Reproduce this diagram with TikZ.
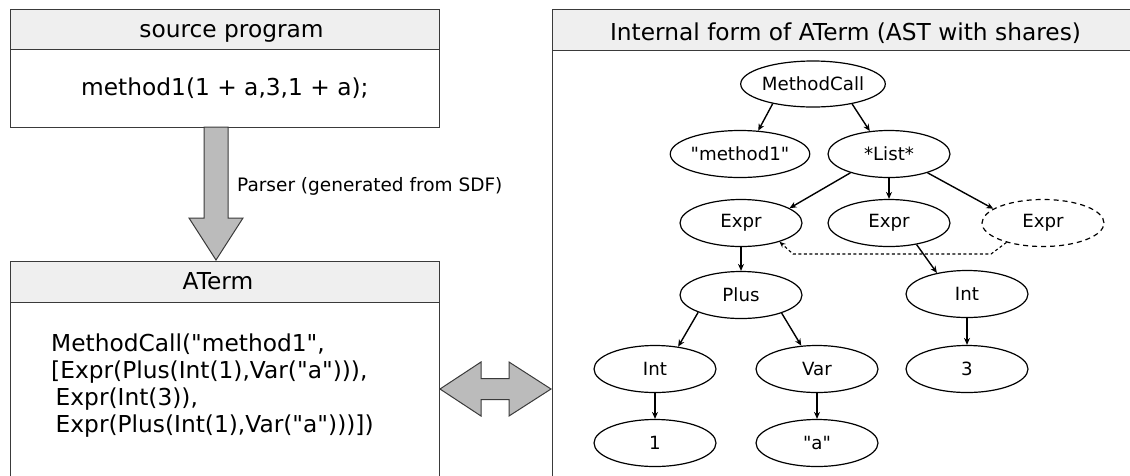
\documentclass[tikz,border=0pt]{standalone}
\usepackage{fontspec}
\setmainfont{DejaVu Sans}[Ligatures=TeXOff]
\usetikzlibrary{shapes.geometric,arrows.meta,calc}

\definecolor{headgray}{HTML}{EFEFEF}
\definecolor{framegray}{HTML}{3A3A3A}
\definecolor{blockgray}{HTML}{BBBBBB}

\tikzset{
  frame/.style={draw=framegray, line width=1pt},
  header/.style={fill=headgray},
  title/.style={font=\fontsize{23.3}{27}\selectfont, inner sep=0pt, anchor=base},
  body/.style={font=\fontsize{23.3}{27}\selectfont, inner sep=0pt},
  blockarrow/.style={draw=framegray, fill=blockgray, line width=1pt, line join=miter},
  term/.style={ellipse, draw, line width=1.2pt, minimum width=122pt, minimum height=47pt,
               inner sep=0pt, font=\fontsize{18.2}{21}\selectfont},
  shared/.style={term, dashed, dash pattern=on 5pt off 4pt},
  edge/.style={line width=1.4pt, -{Stealth[length=7pt,width=6pt]}},
  shareedge/.style={line width=1.1pt, dash pattern=on 3pt off 2.5pt, -{Stealth[length=6pt,width=5pt]}}
}

\begin{document}
\begin{tikzpicture}[x=1pt,y=-1pt]
\useasboundingbox (0,0) rectangle (1130,475);

% ---- source program box ----
\fill[header] (10,9) rectangle (439,49);
\draw[frame] (10,9) rectangle (439,127);
\draw[frame] (10,49) -- (439,49);
\node[title] (srctitle) at (231.5,37) {source program};
\node[body, anchor=base west] (srctext) at (81,95) {method1(1 + a,3,1 + a);};

% ---- ATerm box (runs past the lower edge) ----
\fill[header] (10,261) rectangle (439,302);
\draw[frame] (10,480) -- (10,261) -- (439,261) -- (439,480);
\draw[frame] (10,302) -- (439,302);
\node[title] (atitle) at (218,289) {ATerm};
\node[body, anchor=base west] (l1) at (51,351) {MethodCall("method1",};
\node[body, anchor=base west] (l2) at (51,378) {[Expr(Plus(Int(1),Var("a"))),};
\node[body, anchor=base west] (l3) at (55.5,405) {Expr(Int(3)),};
\node[body, anchor=base west] (l4) at (55.5,432) {Expr(Plus(Int(1),Var("a")))])};

% ---- parser arrow ----
\coordinate (ptop) at (216,127);
\coordinate (ptip) at (216,260);
\draw[blockarrow] ($(ptop)+(-12,0)$) -- ($(ptip)+(-12,-42)$) -- ($(ptip)+(-27,-42)$) -- (ptip)
  -- ($(ptip)+(27,-42)$) -- ($(ptip)+(12,-42)$) -- ($(ptop)+(12,0)$) -- cycle;
\node[body, anchor=west, font=\fontsize{18.5}{21}\selectfont] (plabel) at (237,186) {Parser (generated from SDF)};

% ---- internal form panel (runs past the right and lower edges) ----
\fill[header] (552,9) rectangle (1140,50);
\draw[frame] (552,480) -- (552,9) -- (1140,9);
\draw[frame] (552,50) -- (1140,50);
\node[title] (itile) at (845.5,40) {Internal form of ATerm (AST with shares)};

% ---- two-way arrow between the ATerm text and its internal form ----
\coordinate (dl) at (440,389);
\coordinate (dr) at (551,389);
\draw[blockarrow] (dl) -- ($(dl)+(41,-27)$) -- ($(dl)+(41,-10.5)$) -- ($(dr)+(-42,-10.5)$) -- ($(dr)+(-42,-27)$)
  -- (dr) -- ($(dr)+(-42,27)$) -- ($(dr)+(-42,10.5)$) -- ($(dl)+(41,10.5)$) -- ($(dl)+(41,27)$) -- cycle;

% ---- term tree ----
\node[term, minimum width=118pt, minimum height=46pt] (mc) at (813,84) {MethodCall};
\node[term] (m1) at (740,154) {"method1"};
\node[term] (lst) at (889,154) {*List*};
\node[term] (e1) at (741,223) {Expr};
\node[term] (e2) at (889,223) {Expr};
\node[shared] (e3) at (1043,223) {Expr};
\node[term] (plus) at (741,295) {Plus};
\node[term] (intr) at (967,294) {Int};
\node[term] (intl) at (655,369) {Int};
\node[term] (var) at (817,369) {Var};
\node[term] (three) at (967,369) {3};
\node[term] (one) at (655,443) {1};
\node[term] (a) at (817,443) {"a"};

\draw[edge] (mc.206) -- (m1.52);
\draw[edge] (mc.333) -- (lst.130);
\draw[edge] (lst.206) -- (e1.17);
\draw[edge] (lst) -- (e2);
\draw[edge] (lst.334) -- (e3.164);
\draw[edge] (e1) -- (plus);
\draw[edge] (e2.322) -- (intr.145);
\draw[edge] (plus.202) -- (intl.44);
\draw[edge] (plus.336) -- (var.124);
\draw[edge] (intr) -- (three);
\draw[edge] (intl) -- (one);
\draw[edge] (var) -- (a);

% shared subterm points back to the first Expr
\coordinate (s1) at (991,254);
\coordinate (s2) at (793,254);
\draw[shareedge] (e3.208) -- (s1) -- (s2) -- (e1.334);
\end{tikzpicture}
\end{document}
